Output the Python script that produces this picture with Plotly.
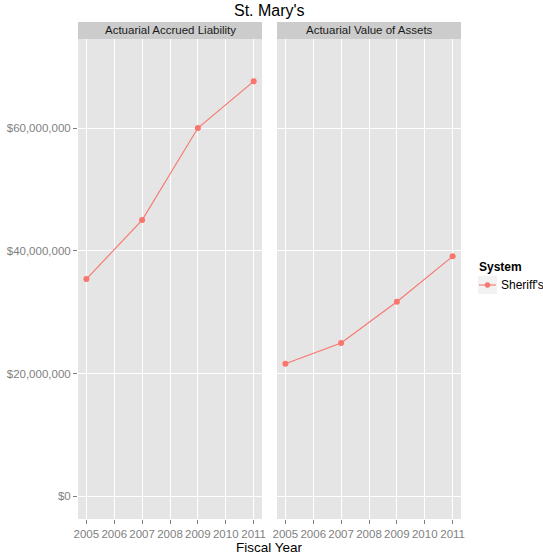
import plotly.graph_objects as go

years = [2005, 2007, 2009, 2011]
liability = [35.4e6, 45.0e6, 60.0e6, 67.6e6]
assets = [21.6e6, 25.0e6, 31.7e6, 39.1e6]
panels = ["Actuarial Accrued Liability", "Actuarial Value of Assets"]
series_name = "Sheriff's"
legend_title = "System"
ytick_vals = [0, 20e6, 40e6, 60e6]
ytick_text = ["$0", "$20,000,000", "$40,000,000", "$60,000,000"]
xtick_vals = [2005, 2006, 2007, 2008, 2009, 2010, 2011]

W, H = 543, 557
ML, MR, MT, MB = 78, 82, 22, 38
pw = W - ML - MR
ph = H - MT - MB
strip_h = 17
ytop = 1 - strip_h / ph
gap = 15
dw = (pw - gap) / 2 / pw

def px(x):
    return (x - ML) / pw

def py(y):
    return (MT + ph - y) / ph

color = "#F8766D"
fig = go.Figure()
fig.add_trace(go.Scatter(x=years, y=liability, mode="lines+markers", name=series_name,
                         line=dict(color=color, width=1.1), marker=dict(size=6, color=color),
                         xaxis="x", yaxis="y"))
fig.add_trace(go.Scatter(x=years, y=assets, mode="lines+markers", name=series_name,
                         line=dict(color=color, width=1.1), marker=dict(size=6, color=color),
                         xaxis="x2", yaxis="y2"))

font = "Liberation Sans, Arial, sans-serif"
xcommon = dict(range=[2004.7, 2011.3], tickvals=xtick_vals, showgrid=True, gridcolor="white",
               gridwidth=1, zeroline=False, ticks="outside", ticklen=4, tickcolor="#7f7f7f",
               tickangle=0, automargin=False,
               tickfont=dict(size=11.5, color="#7f7f7f", family=font), showline=False)
ycommon = dict(range=[-3.68e6, 74.5e6], tickvals=ytick_vals, showgrid=True, gridcolor="white",
               gridwidth=1, zeroline=False, domain=[0, ytop], showline=False, automargin=False)
fig.update_layout(
    width=W, height=H,
    margin=dict(l=ML, r=MR, t=MT, b=MB, autoexpand=False),
    paper_bgcolor="white", plot_bgcolor="#E5E5E5",
    xaxis=dict(domain=[0, dw], anchor="y", **xcommon),
    xaxis2=dict(domain=[1 - dw, 1], anchor="y2", **xcommon),
    yaxis=dict(anchor="x", ticktext=ytick_text, ticks="outside", ticklen=4, tickcolor="#7f7f7f",
               tickfont=dict(size=11.5, color="#7f7f7f", family=font), **ycommon),
    yaxis2=dict(anchor="x2", showticklabels=False, ticks="", **ycommon),
    font=dict(family=font),
    showlegend=False,
)

# strips
for i, (x0, x1) in enumerate([(0, dw), (1 - dw, 1)]):
    fig.add_shape(type="rect", xref="paper", yref="paper", x0=x0, x1=x1, y0=ytop, y1=1,
                  fillcolor="#CCCCCC", line=dict(width=0), layer="below")
    fig.add_annotation(text=panels[i], xref="paper", yref="paper", x=(x0 + x1) / 2,
                       y=(ytop + 1) / 2, showarrow=False, xanchor="center", yanchor="middle",
                       font=dict(size=11.5, color="#1a1a1a", family=font))

fig.add_annotation(text="St. Mary's", xref="paper", yref="paper", x=0.5, y=1,
                   yshift=12, xanchor="center", yanchor="middle", showarrow=False,
                   font=dict(size=16, color="black", family=font))
fig.add_annotation(text="Fiscal Year", xref="paper", yref="paper", x=0.5, y=0,
                   yshift=-28, xanchor="center", yanchor="middle", showarrow=False,
                   font=dict(size=13.5, color="black", family=font))

# manual legend (ggplot style)
fig.add_annotation(text="<b>" + legend_title + "</b>", xref="paper", yref="paper",
                   x=px(477), y=py(267), xanchor="left", yanchor="middle", showarrow=False,
                   font=dict(size=12, color="black", family=font))
fig.add_shape(type="rect", xref="paper", yref="paper", x0=px(478), x1=px(497),
              y0=py(294), y1=py(276), fillcolor="#F2F2F2", line=dict(width=0))
fig.add_shape(type="line", xref="paper", yref="paper", x0=px(479), x1=px(496),
              y0=py(285), y1=py(285), line=dict(color=color, width=1.1))
fig.add_shape(type="circle", xref="paper", yref="paper", x0=px(484.8), x1=px(490.2),
              y0=py(287.7), y1=py(282.3), fillcolor=color, line=dict(width=0))
fig.add_annotation(text=series_name, xref="paper", yref="paper",
                   x=px(499), y=py(285), xanchor="left", yanchor="middle", showarrow=False,
                   font=dict(size=12, color="black", family=font))

fig.write_html("out.html", config={"displayModeBar": False},
               post_script="document.body.style.margin='0';")
